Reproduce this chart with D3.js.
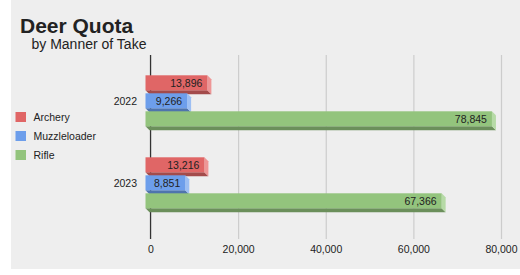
<!DOCTYPE html>
<html lang="en">
<head>
<meta charset="utf-8">
<title>Deer Quota</title>
<script src="https://d3js.org/d3.v7.min.js"></script>
<style>
body { margin: 0; background: #fff; }
text { font-family: Arial, "Liberation Sans", sans-serif; fill: #222; }
</style>
</head>
<body>
<svg width="520" height="275"></svg>
<script>

var years = ["2022", "2023"];
var series = ["Archery", "Muzzleloader", "Rifle"];
var archery = [13896, 13216];
var muzzleloader = [9266, 8851];
var rifle = [78845, 67366];
var xTicks = [0, 20000, 40000, 60000, 80000];

var colors = {
  Archery:      {face: "#e06666", dark: "#a34b4b", side: "#ee9696"},
  Muzzleloader: {face: "#6d9eeb", dark: "#4f74ad", side: "#9dbff3"},
  Rifle:        {face: "#93c47d", dark: "#6b8f5b", side: "#b6daa6"}
};

var values = {Archery: archery, Muzzleloader: muzzleloader, Rifle: rifle};

var svg = d3.select("svg");

svg.append("rect")
    .attr("x", 11).attr("y", 0)
    .attr("width", 509).attr("height", 269)
    .attr("fill", "#eeeeee");

var gridTop = 55, gridBottom = 239;
var depth = 4, faceH = 15;

var x = d3.scaleLinear().domain([0, 80000]).range([150.5, 501]);
var y = d3.scaleBand().domain(years).range([60, 224]);
var ySub = d3.scaleBand().domain(series).range([-25.7, 28.3]);

// gridlines + tick labels
var axis = svg.append("g")
    .attr("transform", `translate(0, ${gridBottom})`)
    .call(d3.axisBottom(x).tickValues(xTicks).tickFormat(d3.format(","))
      .tickSize(-(gridBottom - gridTop)).tickPadding(7));
axis.select(".domain").remove();
axis.selectAll("line").attr("stroke", "#cccccc").attr("stroke-width", 1.2);
axis.selectAll("text")
    .style("font-family", "Arial, 'Liberation Sans', sans-serif")
    .style("font-size", "10.5px")
    .attr("fill", "#222");

// zero line
svg.append("line")
    .attr("x1", x(0)).attr("x2", x(0))
    .attr("y1", gridTop).attr("y2", gridBottom)
    .attr("stroke", "#333").attr("stroke-width", 1.2);

// bars
var bars = [];
years.forEach(function(yr, i) {
  series.forEach(function(s) {
    bars.push({year: yr, series: s, value: values[s][i]});
  });
});

var bar = svg.append("g").selectAll("g")
  .data(bars)
  .enter().append("g");

bar.each(function(d) {
  var g = d3.select(this);
  var top = y(d.year) + y.bandwidth() / 2 + ySub(d.series);
  var x0 = x(0) - depth - 1;
  var x1 = x(d.value) - depth;
  var bot = top + faceH;
  var c = colors[d.series];

  g.append("polygon")
      .attr("points", [[x0, bot], [x1, bot], [x1 + depth, bot + depth], [x0 + depth, bot + depth]].join(" "))
      .attr("fill", c.dark);
  g.append("polygon")
      .attr("points", [[x1, top], [x1 + depth, top + depth], [x1 + depth, bot + depth], [x1, bot]].join(" "))
      .attr("fill", c.side);
  g.append("rect")
      .attr("x", x0).attr("y", top)
      .attr("width", x1 - x0).attr("height", faceH)
      .attr("fill", c.face);
  g.append("text")
      .attr("x", x1 - 5).attr("y", top + faceH / 2)
      .attr("text-anchor", "end")
      .attr("dominant-baseline", "central")
      .style("font-size", "10.5px")
      .text(d3.format(",")(d.value));
});

// category labels
svg.append("g").selectAll("text")
  .data(years)
  .enter().append("text")
    .attr("x", 137)
    .attr("y", d => y(d) + y.bandwidth() / 2)
    .attr("text-anchor", "end")
    .attr("dominant-baseline", "central")
    .style("font-size", "10.5px")
    .text(d => d);

// legend
var legend = svg.append("g").selectAll("g")
  .data(series)
  .enter().append("g")
    .attr("transform", (d, i) => `translate(15.5, ${112 + i * 19})`);
legend.append("rect")
    .attr("width", 10.5).attr("height", 10)
    .attr("fill", d => colors[d].face);
legend.append("text")
    .attr("x", 18).attr("y", 5)
    .attr("dominant-baseline", "central")
    .style("font-size", "10.5px")
    .text(d => d);

// titles
svg.append("text")
    .attr("x", 20).attr("y", 33)
    .style("font-size", "21px").style("font-weight", "bold")
    .attr("fill", "#000")
    .text("Deer Quota");
svg.append("text")
    .attr("x", 31.5).attr("y", 48.5)
    .style("font-size", "14px")
    .attr("fill", "#111")
    .text("by Manner of Take");

</script>
</body>
</html>
